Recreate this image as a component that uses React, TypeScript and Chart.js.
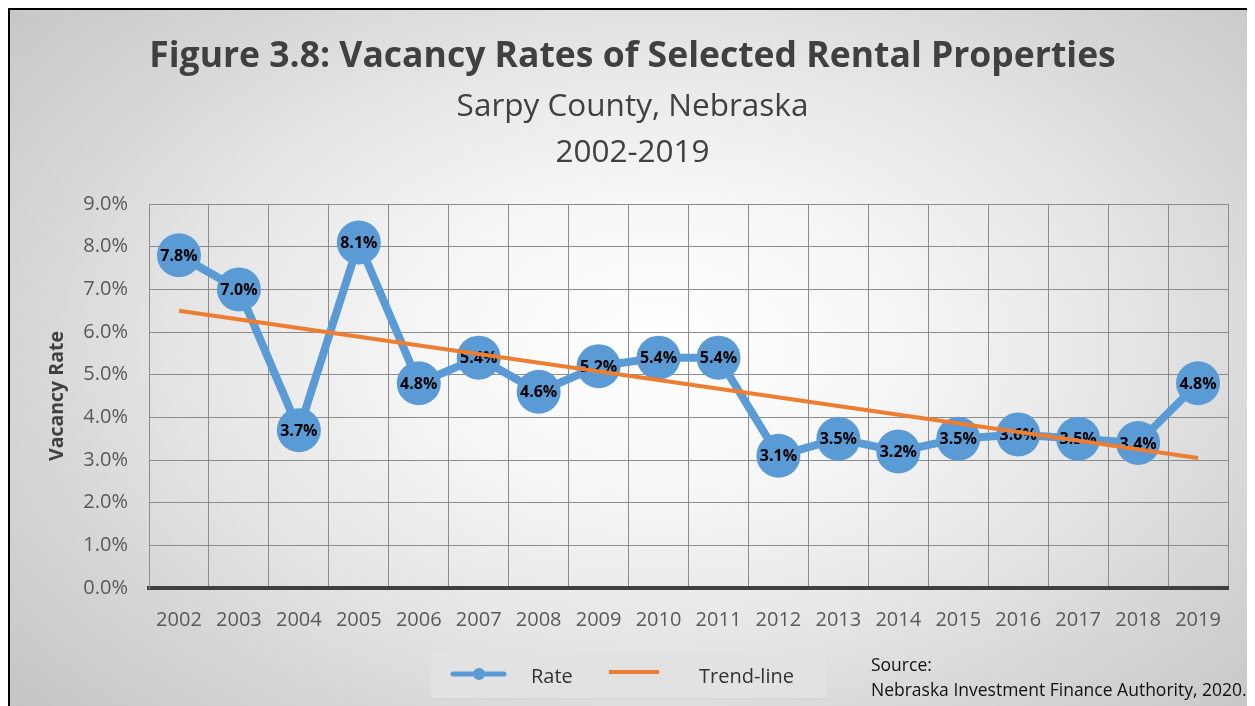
import React, { useEffect, useRef } from "react";
import { Chart, registerables } from "chart.js";

Chart.register(...registerables);

const years = ["2002","2003","2004","2005","2006","2007","2008","2009","2010","2011","2012","2013","2014","2015","2016","2017","2018","2019"];
const rateValues = [7.8, 7.0, 3.7, 8.1, 4.8, 5.4, 4.6, 5.2, 5.4, 5.4, 3.1, 3.5, 3.2, 3.5, 3.6, 3.5, 3.4, 4.8];
const trendValues: (number | null)[] = [6.5, null, null, null, null, null, null, null, null, null, null, null, null, null, null, null, null, 3.05];
const titleText = "Figure 3.8: Vacancy Rates of Selected Rental Properties";
const subtitleLines = ["Sarpy County, Nebraska", "2002-2019"];
const yAxisTitle = "Vacancy Rate";
const sourceLines = ["Source:", "Nebraska Investment Finance Authority, 2020."];

const FONT = "'Open Sans'";
const BLUE = "#5B9BD5";
const ORANGE = "#ED7D31";

const labelPlugin = {
  id: "pointLabels",
  afterDatasetDraw(chart: any, args: any) {
    if (args.index !== 0) return;
    const ctx = chart.ctx;
    const meta = chart.getDatasetMeta(0);
    const data = chart.data.datasets[0].data as number[];
    ctx.save();
    ctx.font = `bold 16px ${FONT}`;
    ctx.fillStyle = "#000";
    ctx.textAlign = "center";
    ctx.textBaseline = "middle";
    meta.data.forEach((pt: any, i: number) => {
      ctx.fillText(data[i].toFixed(1) + "%", pt.x, pt.y + 1);
    });
    ctx.restore();
  },
};

const legendPlugin = {
  id: "customLegend",
  afterDraw(chart: any) {
    const ctx = chart.ctx;
    const ds = chart.data.datasets;
    ctx.save();
    // legend box
    ctx.fillStyle = "#e2e2e2";
    ctx.fillRect(421, 642, 396, 48);
    ctx.fillStyle = "#d6d6d6";
    ctx.fillRect(421, 688, 396, 2);
    // Rate entry
    ctx.strokeStyle = ds[0].borderColor;
    ctx.lineWidth = 5;
    ctx.lineCap = "round";
    ctx.beginPath();
    ctx.moveTo(443, 664);
    ctx.lineTo(494, 664);
    ctx.stroke();
    ctx.fillStyle = ds[0].borderColor;
    ctx.beginPath();
    ctx.arc(469, 664, 6, 0, Math.PI * 2);
    ctx.fill();
    ctx.font = `20px ${FONT}`;
    ctx.fillStyle = "#333";
    ctx.textAlign = "left";
    ctx.textBaseline = "middle";
    ctx.fillText(ds[0].label, 521, 667);
    // Trend entry
    ctx.strokeStyle = ds[1].borderColor;
    ctx.lineWidth = 4;
    ctx.lineCap = "butt";
    ctx.beginPath();
    ctx.moveTo(599, 662);
    ctx.lineTo(649, 662);
    ctx.stroke();
    ctx.fillText(ds[1].label, 689, 667);
    // source
    ctx.font = `17.5px ${FONT}`;
    ctx.fillStyle = "#111";
    ctx.fillText(sourceLines[0], 861, 656);
    ctx.fillText(sourceLines[1], 861, 681);
    ctx.restore();
  },
};

export default function App() {
  const ref = useRef<HTMLCanvasElement | null>(null);
  useEffect(() => {
    let chart: Chart | null = null;
    let cancelled = false;
    const fontsReady = (document as any).fonts
      ? Promise.all([
          (document as any).fonts.load(`bold 35px ${FONT}`),
          (document as any).fonts.load(`30px ${FONT}`),
        ]).catch(() => null)
      : Promise.resolve(null);
    fontsReady.then(() => {
      if (cancelled || !ref.current) return;
      Chart.defaults.font.family = FONT;
      chart = new Chart(ref.current, {
        type: "line",
        data: {
          labels: years,
          datasets: [
            {
              label: "Rate",
              data: rateValues,
              borderColor: BLUE,
              backgroundColor: BLUE,
              borderWidth: 8,
              pointRadius: 22,
              pointHoverRadius: 22,
              pointBackgroundColor: BLUE,
              pointBorderColor: BLUE,
              pointBorderWidth: 0,
              tension: 0,
              order: 1,
              clip: false as any,
            },
            {
              label: "Trend-line",
              data: trendValues,
              borderColor: ORANGE,
              backgroundColor: ORANGE,
              borderWidth: 4,
              pointRadius: 0,
              spanGaps: true,
              tension: 0,
              order: 0,
            },
          ],
        },
        options: {
          responsive: false,
          animation: false,
          events: [],
          layout: { padding: { top: 0, left: 0, right: 0, bottom: 68 } },
          plugins: {
            legend: { display: false },
            tooltip: { enabled: false },
            title: {
              display: true,
              text: titleText,
              color: "#404040",
              font: { family: FONT, size: 35.5, weight: "bold", lineHeight: 1.2 },
              padding: { top: 26, bottom: 5 },
            },
            subtitle: {
              display: true,
              text: subtitleLines,
              color: "#404040",
              font: { family: FONT, size: 31.5, weight: "normal", lineHeight: 46 / 31.5 },
              padding: { top: 0, bottom: 28.5 },
            },
          },
          scales: {
            x: {
              offset: true,
              grid: { display: true, offset: true, color: "#8c8c8c", lineWidth: 1, drawTicks: false },
              border: { display: true, color: "#404040", width: 4 },
              ticks: { color: "#595959", font: { family: FONT, size: 20 }, padding: 20, maxRotation: 0, autoSkip: false },
              afterFit: (s: any) => { s.height = 50; },
            },
            y: {
              min: 0,
              max: 9,
              grid: { color: "#8c8c8c", lineWidth: 1, drawTicks: false },
              border: { display: true, color: "#8c8c8c", width: 1 },
              ticks: {
                stepSize: 1,
                color: "#595959",
                font: { family: FONT, size: 20 },
                padding: 21,
                callback: (v: any) => Number(v).toFixed(1) + "%",
              },
              title: {
                display: true,
                text: yAxisTitle,
                color: "#404040",
                font: { family: FONT, size: 19.5, weight: "bold", lineHeight: 1.2 },
                padding: { top: 36, bottom: 0 },
              },
              afterFit: (s: any) => { s.width = 139; },
            },
            yRightSpace: {
              type: "linear",
              position: "right",
              display: true,
              grid: { display: false, drawTicks: false },
              border: { display: false },
              ticks: { display: false },
              afterFit: (s: any) => { s.width = 27; },
            },
          },
        },
        plugins: [labelPlugin, legendPlugin],
      });
    });
    return () => {
      cancelled = true;
      if (chart) chart.destroy();
    };
  }, []);

  return (
    <div
      style={{
        width: 1247,
        height: 698,
        boxSizing: "border-box",
        borderTop: "2px solid #000",
        borderLeft: "2px solid #000",
        background:
          "radial-gradient(ellipse 70% 80% at 52% 48%, #ffffff 0%, #f7f7f7 25%, #e8e8e8 50%, #d5d5d5 75%, #c4c4c4 100%)",
        overflow: "hidden",
      }}
    >
      <canvas ref={ref} width={1245} height={696} style={{ display: "block" }} />
    </div>
  );
}
